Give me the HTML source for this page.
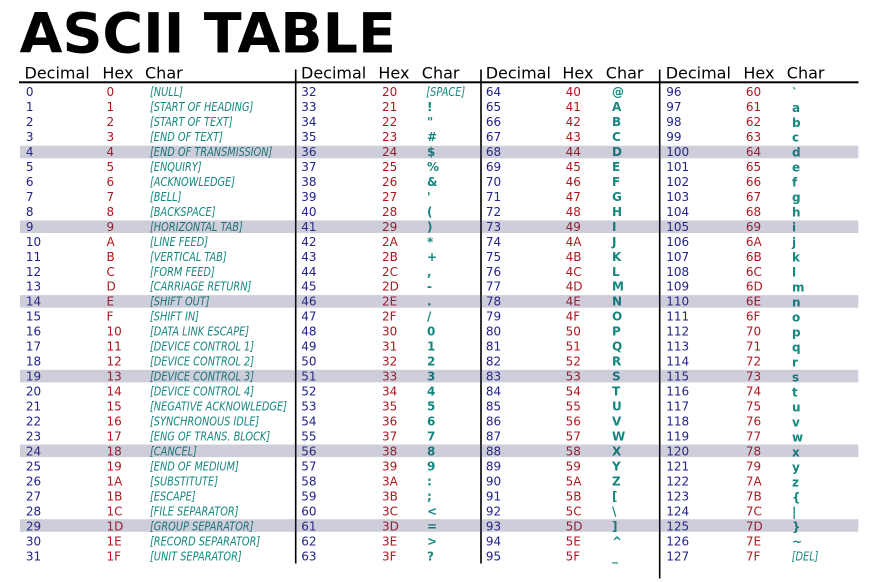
<!DOCTYPE html>
<html>
<head>
<meta charset="utf-8">
<style>
html,body{margin:0;padding:0;background:#fff;}
svg{display:block;}
.t{font-family:"DejaVu Sans","Liberation Sans",sans-serif;}
.dec{fill:#22228c;font-size:12px;}
.hex{fill:#b0161f;font-size:12px;}
.it{fill:#15877f;font-size:12px;font-style:italic;}
.bd{fill:#15877f;font-size:12px;font-weight:bold;}
.hd{fill:#000;font-size:16px;}
</style>
</head>
<body>
<svg width="875" height="582" viewBox="0 0 875 582" xmlns="http://www.w3.org/2000/svg">
<rect width="875" height="582" fill="#fff"/>
<text class="t" x="19.5" y="52.7" font-size="55.5" font-weight="bold" fill="#000">ASCII TABLE</text>

<!-- headers -->
<g class="t hd">
<text x="24.5" y="78.5">Decimal</text><text x="102.4" y="78.5">Hex</text><text x="145" y="78.5">Char</text>
<text x="301" y="78.5">Decimal</text><text x="378.4" y="78.5">Hex</text><text x="421.8" y="78.5">Char</text>
<text x="485.7" y="78.5">Decimal</text><text x="562.4" y="78.5">Hex</text><text x="605.8" y="78.5">Char</text>
<text x="665.7" y="78.5">Decimal</text><text x="743.4" y="78.5">Hex</text><text x="786.8" y="78.5">Char</text>
</g>

<!-- lines -->
<rect x="19" y="81.3" width="839.5" height="2" fill="#000"/>
<rect x="294.9" y="69.5" width="1.6" height="494" fill="#000"/>
<rect x="480.2" y="69.5" width="1.6" height="494" fill="#000"/>
<rect x="658.9" y="69.5" width="1.6" height="509" fill="#000"/>

<!-- group 1 -->
<text class="t dec" y="96"><tspan x="25.9">0</tspan><tspan x="25.9" dy="14.98">1</tspan><tspan x="25.9" dy="14.98">2</tspan><tspan x="25.9" dy="14.98">3</tspan><tspan x="25.9" dy="14.98">4</tspan><tspan x="25.9" dy="14.98">5</tspan><tspan x="25.9" dy="14.98">6</tspan><tspan x="25.9" dy="14.98">7</tspan><tspan x="25.9" dy="14.98">8</tspan><tspan x="25.9" dy="14.98">9</tspan><tspan x="25.9" dy="14.98">10</tspan><tspan x="25.9" dy="14.98">11</tspan><tspan x="25.9" dy="14.98">12</tspan><tspan x="25.9" dy="14.98">13</tspan><tspan x="25.9" dy="14.98">14</tspan><tspan x="25.9" dy="14.98">15</tspan><tspan x="25.9" dy="14.98">16</tspan><tspan x="25.9" dy="14.98">17</tspan><tspan x="25.9" dy="14.98">18</tspan><tspan x="25.9" dy="14.98">19</tspan><tspan x="25.9" dy="14.98">20</tspan><tspan x="25.9" dy="14.98">21</tspan><tspan x="25.9" dy="14.98">22</tspan><tspan x="25.9" dy="14.98">23</tspan><tspan x="25.9" dy="14.98">24</tspan><tspan x="25.9" dy="14.98">25</tspan><tspan x="25.9" dy="14.98">26</tspan><tspan x="25.9" dy="14.98">27</tspan><tspan x="25.9" dy="14.98">28</tspan><tspan x="25.9" dy="14.98">29</tspan><tspan x="25.9" dy="14.98">30</tspan><tspan x="25.9" dy="14.98">31</tspan></text>
<text class="t hex" y="96"><tspan x="106.5">0</tspan><tspan x="106.5" dy="14.98">1</tspan><tspan x="106.5" dy="14.98">2</tspan><tspan x="106.5" dy="14.98">3</tspan><tspan x="106.5" dy="14.98">4</tspan><tspan x="106.5" dy="14.98">5</tspan><tspan x="106.5" dy="14.98">6</tspan><tspan x="106.5" dy="14.98">7</tspan><tspan x="106.5" dy="14.98">8</tspan><tspan x="106.5" dy="14.98">9</tspan><tspan x="106.5" dy="14.98">A</tspan><tspan x="106.5" dy="14.98">B</tspan><tspan x="106.5" dy="14.98">C</tspan><tspan x="106.5" dy="14.98">D</tspan><tspan x="106.5" dy="14.98">E</tspan><tspan x="106.5" dy="14.98">F</tspan><tspan x="106.5" dy="14.98">10</tspan><tspan x="106.5" dy="14.98">11</tspan><tspan x="106.5" dy="14.98">12</tspan><tspan x="106.5" dy="14.98">13</tspan><tspan x="106.5" dy="14.98">14</tspan><tspan x="106.5" dy="14.98">15</tspan><tspan x="106.5" dy="14.98">16</tspan><tspan x="106.5" dy="14.98">17</tspan><tspan x="106.5" dy="14.98">18</tspan><tspan x="106.5" dy="14.98">19</tspan><tspan x="106.5" dy="14.98">1A</tspan><tspan x="106.5" dy="14.98">1B</tspan><tspan x="106.5" dy="14.98">1C</tspan><tspan x="106.5" dy="14.98">1D</tspan><tspan x="106.5" dy="14.98">1E</tspan><tspan x="106.5" dy="14.98">1F</tspan></text>
<text class="t it" y="96" transform="translate(150,0) scale(0.815,1)"><tspan x="0">[NULL]</tspan><tspan x="0" dy="14.98">[START OF HEADING]</tspan><tspan x="0" dy="14.98">[START OF TEXT]</tspan><tspan x="0" dy="14.98">[END OF TEXT]</tspan><tspan x="0" dy="14.98">[END OF TRANSMISSION]</tspan><tspan x="0" dy="14.98">[ENQUIRY]</tspan><tspan x="0" dy="14.98">[ACKNOWLEDGE]</tspan><tspan x="0" dy="14.98">[BELL]</tspan><tspan x="0" dy="14.98">[BACKSPACE]</tspan><tspan x="0" dy="14.98">[HORIZONTAL TAB]</tspan><tspan x="0" dy="14.98">[LINE FEED]</tspan><tspan x="0" dy="14.98">[VERTICAL TAB]</tspan><tspan x="0" dy="14.98">[FORM FEED]</tspan><tspan x="0" dy="14.98">[CARRIAGE RETURN]</tspan><tspan x="0" dy="14.98">[SHIFT OUT]</tspan><tspan x="0" dy="14.98">[SHIFT IN]</tspan><tspan x="0" dy="14.98">[DATA LINK ESCAPE]</tspan><tspan x="0" dy="14.98">[DEVICE CONTROL 1]</tspan><tspan x="0" dy="14.98">[DEVICE CONTROL 2]</tspan><tspan x="0" dy="14.98">[DEVICE CONTROL 3]</tspan><tspan x="0" dy="14.98">[DEVICE CONTROL 4]</tspan><tspan x="0" dy="14.98">[NEGATIVE ACKNOWLEDGE]</tspan><tspan x="0" dy="14.98">[SYNCHRONOUS IDLE]</tspan><tspan x="0" dy="14.98">[ENG OF TRANS. BLOCK]</tspan><tspan x="0" dy="14.98">[CANCEL]</tspan><tspan x="0" dy="14.98">[END OF MEDIUM]</tspan><tspan x="0" dy="14.98">[SUBSTITUTE]</tspan><tspan x="0" dy="14.98">[ESCAPE]</tspan><tspan x="0" dy="14.98">[FILE SEPARATOR]</tspan><tspan x="0" dy="14.98">[GROUP SEPARATOR]</tspan><tspan x="0" dy="14.98">[RECORD SEPARATOR]</tspan><tspan x="0" dy="14.98">[UNIT SEPARATOR]</tspan></text>

<!-- group 2 -->
<text class="t dec" y="96"><tspan x="301.3">32</tspan><tspan x="301.3" dy="14.98">33</tspan><tspan x="301.3" dy="14.98">34</tspan><tspan x="301.3" dy="14.98">35</tspan><tspan x="301.3" dy="14.98">36</tspan><tspan x="301.3" dy="14.98">37</tspan><tspan x="301.3" dy="14.98">38</tspan><tspan x="301.3" dy="14.98">39</tspan><tspan x="301.3" dy="14.98">40</tspan><tspan x="301.3" dy="14.98">41</tspan><tspan x="301.3" dy="14.98">42</tspan><tspan x="301.3" dy="14.98">43</tspan><tspan x="301.3" dy="14.98">44</tspan><tspan x="301.3" dy="14.98">45</tspan><tspan x="301.3" dy="14.98">46</tspan><tspan x="301.3" dy="14.98">47</tspan><tspan x="301.3" dy="14.98">48</tspan><tspan x="301.3" dy="14.98">49</tspan><tspan x="301.3" dy="14.98">50</tspan><tspan x="301.3" dy="14.98">51</tspan><tspan x="301.3" dy="14.98">52</tspan><tspan x="301.3" dy="14.98">53</tspan><tspan x="301.3" dy="14.98">54</tspan><tspan x="301.3" dy="14.98">55</tspan><tspan x="301.3" dy="14.98">56</tspan><tspan x="301.3" dy="14.98">57</tspan><tspan x="301.3" dy="14.98">58</tspan><tspan x="301.3" dy="14.98">59</tspan><tspan x="301.3" dy="14.98">60</tspan><tspan x="301.3" dy="14.98">61</tspan><tspan x="301.3" dy="14.98">62</tspan><tspan x="301.3" dy="14.98">63</tspan></text>
<text class="t hex" y="96"><tspan x="382">20</tspan><tspan x="382" dy="14.98">21</tspan><tspan x="382" dy="14.98">22</tspan><tspan x="382" dy="14.98">23</tspan><tspan x="382" dy="14.98">24</tspan><tspan x="382" dy="14.98">25</tspan><tspan x="382" dy="14.98">26</tspan><tspan x="382" dy="14.98">27</tspan><tspan x="382" dy="14.98">28</tspan><tspan x="382" dy="14.98">29</tspan><tspan x="382" dy="14.98">2A</tspan><tspan x="382" dy="14.98">2B</tspan><tspan x="382" dy="14.98">2C</tspan><tspan x="382" dy="14.98">2D</tspan><tspan x="382" dy="14.98">2E</tspan><tspan x="382" dy="14.98">2F</tspan><tspan x="382" dy="14.98">30</tspan><tspan x="382" dy="14.98">31</tspan><tspan x="382" dy="14.98">32</tspan><tspan x="382" dy="14.98">33</tspan><tspan x="382" dy="14.98">34</tspan><tspan x="382" dy="14.98">35</tspan><tspan x="382" dy="14.98">36</tspan><tspan x="382" dy="14.98">37</tspan><tspan x="382" dy="14.98">38</tspan><tspan x="382" dy="14.98">39</tspan><tspan x="382" dy="14.98">3A</tspan><tspan x="382" dy="14.98">3B</tspan><tspan x="382" dy="14.98">3C</tspan><tspan x="382" dy="14.98">3D</tspan><tspan x="382" dy="14.98">3E</tspan><tspan x="382" dy="14.98">3F</tspan></text>
<text class="t it" y="96" transform="translate(426.3,0) scale(0.815,1)"><tspan x="0">[SPACE]</tspan></text>
<text class="t bd" y="110.98"><tspan x="427">!</tspan><tspan x="427" dy="14.98">&quot;</tspan><tspan x="427" dy="14.98">#</tspan><tspan x="427" dy="14.98">$</tspan><tspan x="427" dy="14.98">%</tspan><tspan x="427" dy="14.98">&amp;</tspan><tspan x="427" dy="14.98">'</tspan><tspan x="427" dy="14.98">(</tspan><tspan x="427" dy="14.98">)</tspan><tspan x="427" dy="14.98">*</tspan><tspan x="427" dy="14.98">+</tspan><tspan x="427" dy="14.98">,</tspan><tspan x="427" dy="14.98">-</tspan><tspan x="427" dy="14.98">.</tspan><tspan x="427" dy="14.98">/</tspan><tspan x="427" dy="14.98">0</tspan><tspan x="427" dy="14.98">1</tspan><tspan x="427" dy="14.98">2</tspan><tspan x="427" dy="14.98">3</tspan><tspan x="427" dy="14.98">4</tspan><tspan x="427" dy="14.98">5</tspan><tspan x="427" dy="14.98">6</tspan><tspan x="427" dy="14.98">7</tspan><tspan x="427" dy="14.98">8</tspan><tspan x="427" dy="14.98">9</tspan><tspan x="427" dy="14.98">:</tspan><tspan x="427" dy="14.98">;</tspan><tspan x="427" dy="14.98">&lt;</tspan><tspan x="427" dy="14.98">=</tspan><tspan x="427" dy="14.98">&gt;</tspan><tspan x="427" dy="14.98">?</tspan></text>

<!-- group 3 -->
<text class="t dec" y="96"><tspan x="485.9">64</tspan><tspan x="485.9" dy="14.98">65</tspan><tspan x="485.9" dy="14.98">66</tspan><tspan x="485.9" dy="14.98">67</tspan><tspan x="485.9" dy="14.98">68</tspan><tspan x="485.9" dy="14.98">69</tspan><tspan x="485.9" dy="14.98">70</tspan><tspan x="485.9" dy="14.98">71</tspan><tspan x="485.9" dy="14.98">72</tspan><tspan x="485.9" dy="14.98">73</tspan><tspan x="485.9" dy="14.98">74</tspan><tspan x="485.9" dy="14.98">75</tspan><tspan x="485.9" dy="14.98">76</tspan><tspan x="485.9" dy="14.98">77</tspan><tspan x="485.9" dy="14.98">78</tspan><tspan x="485.9" dy="14.98">79</tspan><tspan x="485.9" dy="14.98">80</tspan><tspan x="485.9" dy="14.98">81</tspan><tspan x="485.9" dy="14.98">82</tspan><tspan x="485.9" dy="14.98">83</tspan><tspan x="485.9" dy="14.98">84</tspan><tspan x="485.9" dy="14.98">85</tspan><tspan x="485.9" dy="14.98">86</tspan><tspan x="485.9" dy="14.98">87</tspan><tspan x="485.9" dy="14.98">88</tspan><tspan x="485.9" dy="14.98">89</tspan><tspan x="485.9" dy="14.98">90</tspan><tspan x="485.9" dy="14.98">91</tspan><tspan x="485.9" dy="14.98">92</tspan><tspan x="485.9" dy="14.98">93</tspan><tspan x="485.9" dy="14.98">94</tspan><tspan x="485.9" dy="14.98">95</tspan></text>
<text class="t hex" y="96"><tspan x="565.6">40</tspan><tspan x="565.6" dy="14.98">41</tspan><tspan x="565.6" dy="14.98">42</tspan><tspan x="565.6" dy="14.98">43</tspan><tspan x="565.6" dy="14.98">44</tspan><tspan x="565.6" dy="14.98">45</tspan><tspan x="565.6" dy="14.98">46</tspan><tspan x="565.6" dy="14.98">47</tspan><tspan x="565.6" dy="14.98">48</tspan><tspan x="565.6" dy="14.98">49</tspan><tspan x="565.6" dy="14.98">4A</tspan><tspan x="565.6" dy="14.98">4B</tspan><tspan x="565.6" dy="14.98">4C</tspan><tspan x="565.6" dy="14.98">4D</tspan><tspan x="565.6" dy="14.98">4E</tspan><tspan x="565.6" dy="14.98">4F</tspan><tspan x="565.6" dy="14.98">50</tspan><tspan x="565.6" dy="14.98">51</tspan><tspan x="565.6" dy="14.98">52</tspan><tspan x="565.6" dy="14.98">53</tspan><tspan x="565.6" dy="14.98">54</tspan><tspan x="565.6" dy="14.98">55</tspan><tspan x="565.6" dy="14.98">56</tspan><tspan x="565.6" dy="14.98">57</tspan><tspan x="565.6" dy="14.98">58</tspan><tspan x="565.6" dy="14.98">59</tspan><tspan x="565.6" dy="14.98">5A</tspan><tspan x="565.6" dy="14.98">5B</tspan><tspan x="565.6" dy="14.98">5C</tspan><tspan x="565.6" dy="14.98">5D</tspan><tspan x="565.6" dy="14.98">5E</tspan><tspan x="565.6" dy="14.98">5F</tspan></text>
<text class="t bd" y="96"><tspan x="612">@</tspan><tspan x="612" dy="14.98">A</tspan><tspan x="612" dy="14.98">B</tspan><tspan x="612" dy="14.98">C</tspan><tspan x="612" dy="14.98">D</tspan><tspan x="612" dy="14.98">E</tspan><tspan x="612" dy="14.98">F</tspan><tspan x="612" dy="14.98">G</tspan><tspan x="612" dy="14.98">H</tspan><tspan x="612" dy="14.98">I</tspan><tspan x="612" dy="14.98">J</tspan><tspan x="612" dy="14.98">K</tspan><tspan x="612" dy="14.98">L</tspan><tspan x="612" dy="14.98">M</tspan><tspan x="612" dy="14.98">N</tspan><tspan x="612" dy="14.98">O</tspan><tspan x="612" dy="14.98">P</tspan><tspan x="612" dy="14.98">Q</tspan><tspan x="612" dy="14.98">R</tspan><tspan x="612" dy="14.98">S</tspan><tspan x="612" dy="14.98">T</tspan><tspan x="612" dy="14.98">U</tspan><tspan x="612" dy="14.98">V</tspan><tspan x="612" dy="14.98">W</tspan><tspan x="612" dy="14.98">X</tspan><tspan x="612" dy="14.98">Y</tspan><tspan x="612" dy="14.98">Z</tspan><tspan x="612" dy="14.98">[</tspan><tspan x="612" dy="14.98">\</tspan><tspan x="612" dy="14.98">]</tspan><tspan x="612" dy="14.98">^</tspan><tspan x="612" dy="14.98">_</tspan></text>

<!-- group 4 -->
<text class="t dec" y="96"><tspan x="666.2">96</tspan><tspan x="666.2" dy="14.98">97</tspan><tspan x="666.2" dy="14.98">98</tspan><tspan x="666.2" dy="14.98">99</tspan><tspan x="666.2" dy="14.98">100</tspan><tspan x="666.2" dy="14.98">101</tspan><tspan x="666.2" dy="14.98">102</tspan><tspan x="666.2" dy="14.98">103</tspan><tspan x="666.2" dy="14.98">104</tspan><tspan x="666.2" dy="14.98">105</tspan><tspan x="666.2" dy="14.98">106</tspan><tspan x="666.2" dy="14.98">107</tspan><tspan x="666.2" dy="14.98">108</tspan><tspan x="666.2" dy="14.98">109</tspan><tspan x="666.2" dy="14.98">110</tspan><tspan x="666.2" dy="14.98">111</tspan><tspan x="666.2" dy="14.98">112</tspan><tspan x="666.2" dy="14.98">113</tspan><tspan x="666.2" dy="14.98">114</tspan><tspan x="666.2" dy="14.98">115</tspan><tspan x="666.2" dy="14.98">116</tspan><tspan x="666.2" dy="14.98">117</tspan><tspan x="666.2" dy="14.98">118</tspan><tspan x="666.2" dy="14.98">119</tspan><tspan x="666.2" dy="14.98">120</tspan><tspan x="666.2" dy="14.98">121</tspan><tspan x="666.2" dy="14.98">122</tspan><tspan x="666.2" dy="14.98">123</tspan><tspan x="666.2" dy="14.98">124</tspan><tspan x="666.2" dy="14.98">125</tspan><tspan x="666.2" dy="14.98">126</tspan><tspan x="666.2" dy="14.98">127</tspan></text>
<text class="t hex" y="96"><tspan x="745.9">60</tspan><tspan x="745.9" dy="14.98">61</tspan><tspan x="745.9" dy="14.98">62</tspan><tspan x="745.9" dy="14.98">63</tspan><tspan x="745.9" dy="14.98">64</tspan><tspan x="745.9" dy="14.98">65</tspan><tspan x="745.9" dy="14.98">66</tspan><tspan x="745.9" dy="14.98">67</tspan><tspan x="745.9" dy="14.98">68</tspan><tspan x="745.9" dy="14.98">69</tspan><tspan x="745.9" dy="14.98">6A</tspan><tspan x="745.9" dy="14.98">6B</tspan><tspan x="745.9" dy="14.98">6C</tspan><tspan x="745.9" dy="14.98">6D</tspan><tspan x="745.9" dy="14.98">6E</tspan><tspan x="745.9" dy="14.98">6F</tspan><tspan x="745.9" dy="14.98">70</tspan><tspan x="745.9" dy="14.98">71</tspan><tspan x="745.9" dy="14.98">72</tspan><tspan x="745.9" dy="14.98">73</tspan><tspan x="745.9" dy="14.98">74</tspan><tspan x="745.9" dy="14.98">75</tspan><tspan x="745.9" dy="14.98">76</tspan><tspan x="745.9" dy="14.98">77</tspan><tspan x="745.9" dy="14.98">78</tspan><tspan x="745.9" dy="14.98">79</tspan><tspan x="745.9" dy="14.98">7A</tspan><tspan x="745.9" dy="14.98">7B</tspan><tspan x="745.9" dy="14.98">7C</tspan><tspan x="745.9" dy="14.98">7D</tspan><tspan x="745.9" dy="14.98">7E</tspan><tspan x="745.9" dy="14.98">7F</tspan></text>
<text class="t bd" y="96.8"><tspan x="792">`</tspan><tspan x="792" dy="14.98">a</tspan><tspan x="792" dy="14.98">b</tspan><tspan x="792" dy="14.98">c</tspan><tspan x="792" dy="14.98">d</tspan><tspan x="792" dy="14.98">e</tspan><tspan x="792" dy="14.98">f</tspan><tspan x="792" dy="14.98">g</tspan><tspan x="792" dy="14.98">h</tspan><tspan x="792" dy="14.98">i</tspan><tspan x="792" dy="14.98">j</tspan><tspan x="792" dy="14.98">k</tspan><tspan x="792" dy="14.98">l</tspan><tspan x="792" dy="14.98">m</tspan><tspan x="792" dy="14.98">n</tspan><tspan x="792" dy="14.98">o</tspan><tspan x="792" dy="14.98">p</tspan><tspan x="792" dy="14.98">q</tspan><tspan x="792" dy="14.98">r</tspan><tspan x="792" dy="14.98">s</tspan><tspan x="792" dy="14.98">t</tspan><tspan x="792" dy="14.98">u</tspan><tspan x="792" dy="14.98">v</tspan><tspan x="792" dy="14.98">w</tspan><tspan x="792" dy="14.98">x</tspan><tspan x="792" dy="14.98">y</tspan><tspan x="792" dy="14.98">z</tspan><tspan x="792" dy="14.98">{</tspan><tspan x="792" dy="14.98">|</tspan><tspan x="792" dy="14.98">}</tspan><tspan x="792" dy="14.98">~</tspan></text>
<text class="t it" y="560.38" transform="translate(791.7,0) scale(0.815,1)"><tspan x="0">[DEL]</tspan></text>

<!-- highlight bands (overlay) -->
<g fill="#3c3c6e" fill-opacity="0.25">
<rect x="20" y="145.7" width="838.3" height="12.6"/>
<rect x="20" y="220.4" width="838.3" height="12.6"/>
<rect x="20" y="295.1" width="838.3" height="12.6"/>
<rect x="20" y="369.8" width="838.3" height="12.6"/>
<rect x="20" y="444.5" width="838.3" height="12.6"/>
<rect x="20" y="519.2" width="838.3" height="12.6"/>
</g>
</svg>
</body>
</html>
